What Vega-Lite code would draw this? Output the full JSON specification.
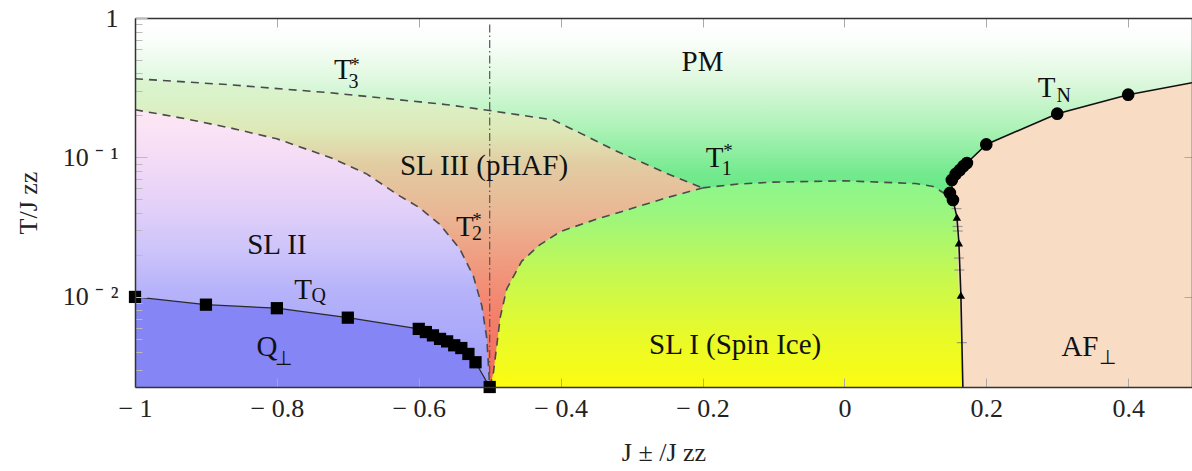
{
  "$schema": "https://vega.github.io/schema/vega-lite/v6.json",
  "width": 1057,
  "height": 369,
  "autosize": {"type": "none"},
  "padding": {"left": 135, "top": 18, "right": 0, "bottom": 84},
  "background": "white",
  "config": {"view": {"stroke": null}, "font": "Liberation Serif"},
  "datasets": {
    "one": [{}],
    "sl3": [{"x":-1,"y":0.367},{"x":-0.866,"y":0.332},{"x":-0.725,"y":0.291},{"x":-0.655,"y":0.268},{"x":-0.56,"y":0.239},{"x":-0.5,"y":0.217},{"x":-0.45,"y":0.199},{"x":-0.411,"y":0.186},{"x":-0.373,"y":0.15},{"x":-0.326,"y":0.114},{"x":-0.256,"y":0.079},{"x":-0.2,"y":0.0605}],
    "sl2": [{"x":-1,"y":0.22},{"x":-0.93,"y":0.19},{"x":-0.866,"y":0.163},{"x":-0.8,"y":0.136},{"x":-0.725,"y":0.1},{"x":-0.673,"y":0.076},{"x":-0.627,"y":0.053},{"x":-0.6,"y":0.044},{"x":-0.57,"y":0.033},{"x":-0.542,"y":0.022},{"x":-0.523,"y":0.0141},{"x":-0.511,"y":0.0086},{"x":-0.504,"y":0.005},{"x":-0.5,"y":0.00226}],
    "q": [{"x":-1,"y":0.01},{"x":-0.9,"y":0.0088},{"x":-0.8,"y":0.0083},{"x":-0.7,"y":0.0071},{"x":-0.6,"y":0.0059},{"x":-0.59,"y":0.0056},{"x":-0.58,"y":0.0053},{"x":-0.57,"y":0.005},{"x":-0.56,"y":0.0048},{"x":-0.55,"y":0.0045},{"x":-0.54,"y":0.0043},{"x":-0.53,"y":0.0039},{"x":-0.52,"y":0.0034},{"x":-0.5,"y":0.00226}],
    "sl1": [{"x":-0.5,"y":0.00226},{"x":-0.495,"y":0.0028},{"x":-0.49,"y":0.0045},{"x":-0.485,"y":0.0072},{"x":-0.476,"y":0.0114},{"x":-0.455,"y":0.018},{"x":-0.43,"y":0.0235},{"x":-0.4,"y":0.0295},{"x":-0.35,"y":0.036},{"x":-0.3,"y":0.043},{"x":-0.25,"y":0.0515},{"x":-0.2,"y":0.0605},{"x":-0.15,"y":0.0645},{"x":-0.1,"y":0.0665},{"x":0.0,"y":0.068},{"x":0.1,"y":0.065},{"x":0.125,"y":0.062},{"x":0.144,"y":0.054},{"x":0.15,"y":0.05},{"x":0.167,"y":0.05}],
    "af": [{"x":0.149,"top":0.056,"bot":0.053},{"x":0.152,"top":0.069,"bot":0.048},{"x":0.157,"top":0.0762,"bot":0.038},{"x":0.159,"top":0.078,"bot":0.025},{"x":0.1615,"top":0.08,"bot":0.0105},{"x":0.167,"top":0.0869,"bot":0.00226},{"x":0.1727,"top":0.0913,"bot":0.00226},{"x":0.2,"top":0.124,"bot":0.00226},{"x":0.3,"top":0.206,"bot":0.00226},{"x":0.4,"top":0.282,"bot":0.00226},{"x":0.49,"top":0.343,"bot":0.00226}],
    "dashed": [
      {"curve":"T3","x":-1,"y":0.367},{"curve":"T3","x":-0.866,"y":0.332},{"curve":"T3","x":-0.725,"y":0.291},{"curve":"T3","x":-0.655,"y":0.268},{"curve":"T3","x":-0.56,"y":0.239},{"curve":"T3","x":-0.5,"y":0.217},{"curve":"T3","x":-0.45,"y":0.199},{"curve":"T3","x":-0.411,"y":0.186},{"curve":"T3","x":-0.373,"y":0.15},{"curve":"T3","x":-0.326,"y":0.114},{"curve":"T3","x":-0.256,"y":0.079},{"curve":"T3","x":-0.2,"y":0.0605},
      {"curve":"T1","x":-0.2,"y":0.0605},{"curve":"T1","x":-0.15,"y":0.0645},{"curve":"T1","x":-0.1,"y":0.0665},{"curve":"T1","x":0.0,"y":0.068},{"curve":"T1","x":0.1,"y":0.065},{"curve":"T1","x":0.125,"y":0.062},{"curve":"T1","x":0.144,"y":0.054},{"curve":"T1","x":0.15,"y":0.05},
      {"curve":"T2L","x":-1,"y":0.22},{"curve":"T2L","x":-0.93,"y":0.19},{"curve":"T2L","x":-0.866,"y":0.163},{"curve":"T2L","x":-0.8,"y":0.136},{"curve":"T2L","x":-0.725,"y":0.1},{"curve":"T2L","x":-0.673,"y":0.076},{"curve":"T2L","x":-0.627,"y":0.053},{"curve":"T2L","x":-0.6,"y":0.044},{"curve":"T2L","x":-0.57,"y":0.033},{"curve":"T2L","x":-0.542,"y":0.022},{"curve":"T2L","x":-0.523,"y":0.0141},{"curve":"T2L","x":-0.511,"y":0.0086},{"curve":"T2L","x":-0.504,"y":0.005},{"curve":"T2L","x":-0.5,"y":0.00226},
      {"curve":"T2R","x":-0.5,"y":0.00226},{"curve":"T2R","x":-0.495,"y":0.0028},{"curve":"T2R","x":-0.49,"y":0.0045},{"curve":"T2R","x":-0.485,"y":0.0072},{"curve":"T2R","x":-0.476,"y":0.0114},{"curve":"T2R","x":-0.455,"y":0.018},{"curve":"T2R","x":-0.43,"y":0.0235},{"curve":"T2R","x":-0.4,"y":0.0295},{"curve":"T2R","x":-0.35,"y":0.036},{"curve":"T2R","x":-0.3,"y":0.043},{"curve":"T2R","x":-0.25,"y":0.0515},{"curve":"T2R","x":-0.2,"y":0.0605}
    ],
    "afline": [{"o":1,"x":0.167,"y":0.00226},{"o":2,"x":0.1642,"y":0.0103},{"o":3,"x":0.1614,"y":0.0244},{"o":4,"x":0.1586,"y":0.0374},{"o":5,"x":0.153,"y":0.0496},{"o":6,"x":0.1515,"y":0.062},{"o":7,"x":0.157,"y":0.0762},{"o":8,"x":0.1628,"y":0.0813},{"o":9,"x":0.1727,"y":0.0913},{"o":10,"x":0.2,"y":0.124},{"o":11,"x":0.3,"y":0.206},{"o":12,"x":0.4,"y":0.282},{"o":13,"x":0.49,"y":0.343}],
    "tn": [{"x":0.1487,"y":0.0557},{"x":0.153,"y":0.0496},{"x":0.1515,"y":0.069},{"x":0.157,"y":0.0762},{"x":0.1628,"y":0.0813},{"x":0.168,"y":0.0869},{"x":0.1727,"y":0.0913},{"x":0.2,"y":0.124},{"x":0.3,"y":0.206},{"x":0.4,"y":0.282}],
    "tri": [{"x":0.1586,"y":0.0374},{"x":0.1614,"y":0.0244},{"x":0.1642,"y":0.0103}],
    "err": [{"x":0.158,"y":0.043},{"x":0.1595,"y":0.032},{"x":0.1598,"y":0.0297},{"x":0.1615,"y":0.019},{"x":0.162,"y":0.0156},{"x":0.1655,"y":0.0047}],
    "labels": [
      {"kind":"main","x":-0.2,"y":0.484,"text":"PM"},
      {"kind":"main","x":-0.508,"y":0.0869,"text":"SL III (pHAF)"},
      {"kind":"main","x":-0.8,"y":0.0236,"text":"SL II"},
      {"kind":"main","x":-0.154,"y":0.00453,"text":"SL I (Spin Ice)"},
      {"kind":"main","x":-0.707,"y":0.424,"text":"T"},
      {"kind":"main","x":-0.183,"y":0.0991,"text":"T"},
      {"kind":"main","x":-0.535,"y":0.0318,"text":"T"},
      {"kind":"main","x":0.285,"y":0.315,"text":"T"},
      {"kind":"main","x":-0.763,"y":0.0112,"text":"T"},
      {"kind":"main","x":-0.814,"y":0.00438,"text":"Q"},
      {"kind":"main","x":0.332,"y":0.00438,"text":"AF"},
      {"kind":"sub","x":-0.692,"y":0.345,"text":"3"},
      {"kind":"sub","x":-0.166,"y":0.0822,"text":"1"},
      {"kind":"sub","x":-0.518,"y":0.0281,"text":"2"},
      {"kind":"sub","x":0.309,"y":0.274,"text":"N"},
      {"kind":"sub","x":-0.741,"y":0.0102,"text":"Q"},
      {"kind":"sub","x":-0.791,"y":0.0036,"text":"⊥"},
      {"kind":"sub","x":0.371,"y":0.00362,"text":"⊥"},
      {"kind":"sup","x":-0.690,"y":0.5,"text":"*"},
      {"kind":"sup","x":-0.164,"y":0.121,"text":"*"},
      {"kind":"sup","x":-0.518,"y":0.0387,"text":"*"}
    ]
  },
  "resolve": {"axis": {"x": "independent", "y": "independent"}},
  "layer": [
    {
      "data": {"name": "one"},
      "mark": {"type": "rect", "clip": true, "color": {"gradient": "linear", "x1": 0, "y1": 0, "x2": 0, "y2": 1, "stops": [{"offset": 0, "color": "#ffffff"}, {"offset": 0.06, "color": "#fbfefb"}, {"offset": 0.17, "color": "#def8de"}, {"offset": 0.3, "color": "#acf2b6"}, {"offset": 0.42, "color": "#74ea8e"}, {"offset": 0.5, "color": "#62e682"}, {"offset": 1, "color": "#62e682"}]}},
      "encoding": {
        "x": {"datum": -1, "type": "quantitative", "scale": {"domain": [-1, 0.49], "nice": false, "zero": false},
          "axis": {"orient": "bottom", "values": [-1, -0.8, -0.6, -0.4, -0.2, 0, 0.2, 0.4], "labelExpr": "datum.value == 0 ? '0' : (datum.value < 0 ? '− ' + format(-datum.value, '~g') : format(datum.value, '~g'))", "tickSize": -9, "tickColor": "#aaaaaa", "tickWidth": 1, "domain": true, "domainColor": "#333333", "domainWidth": 1.5, "grid": false, "zindex": 1, "labelFont": "Liberation Serif", "labelFontSize": 26, "labelColor": "#222222", "labelPadding": 17, "labelFlush": false, "labelOverlap": false, "title": "J ± /J  zz", "titleFont": "Liberation Serif", "titleFontSize": 26, "titleFontWeight": "normal", "titleColor": "#222222", "titlePadding": 18}},
        "x2": {"datum": 0.49},
        "y": {"datum": 1, "type": "quantitative", "scale": {"type": "log", "domain": [0.00226, 1], "nice": false},
          "axis": {"orient": "left", "values": [0.003, 0.004, 0.005, 0.006, 0.007, 0.008, 0.009, 0.01, 0.02, 0.03, 0.04, 0.05, 0.06, 0.07, 0.08, 0.09, 0.1, 0.2, 0.3, 0.4, 0.5, 0.6, 0.7, 0.8, 0.9, 1], "labelExpr": "datum.value == 1 ? '1' : (datum.value == 0.1 ? '10 ⁻ ¹' : (datum.value == 0.01 ? '10 ⁻ ²' : ''))", "tickSize": {"condition": {"test": "datum.value == 1 || datum.value == 0.1 || datum.value == 0.01", "value": -12}, "value": -7}, "tickColor": "#bbbbbb", "domain": true, "domainColor": "#333333", "domainWidth": 1.5, "grid": false, "zindex": 1, "labelFont": "Liberation Serif", "labelFontSize": 26, "labelColor": "#222222", "labelPadding": 29, "labelOverlap": false, "labelFlush": false, "title": "T/J  zz", "titleFont": "Liberation Serif", "titleFontSize": 26, "titleFontWeight": "normal", "titleColor": "#222222", "titlePadding": 21}},
        "y2": {"datum": 0.00226}
      }
    },
    {
      "data": {"name": "sl3"},
      "mark": {"type": "area", "clip": true, "color": {"gradient": "linear", "x1": 0, "y1": 0, "x2": 0, "y2": 1, "stops": [{"offset": 0, "color": "#dcf4d0"}, {"offset": 0.07, "color": "#daf2c8"}, {"offset": 0.17, "color": "#dee8b6"}, {"offset": 0.28, "color": "#e2cca2"}, {"offset": 0.44, "color": "#eab694"}, {"offset": 0.59, "color": "#f09c80"}, {"offset": 0.78, "color": "#f47e6a"}, {"offset": 1, "color": "#f8665a"}]}},
      "encoding": {
        "x": {"field": "x", "type": "quantitative", "scale": {"domain": [-1, 0.49], "nice": false, "zero": false}, "axis": null},
        "y": {"field": "y", "type": "quantitative", "scale": {"type": "log", "domain": [0.00226, 1], "nice": false}, "axis": null},
        "y2": {"datum": 0.00226}
      }
    },
    {
      "data": {"name": "sl2"},
      "mark": {"type": "area", "clip": true, "color": {"gradient": "linear", "x1": 0, "y1": 0, "x2": 0, "y2": 1, "stops": [{"offset": 0, "color": "#fde8f4"}, {"offset": 0.144, "color": "#f6def6"}, {"offset": 0.325, "color": "#e6d2f8"}, {"offset": 0.505, "color": "#cdc4fa"}, {"offset": 0.65, "color": "#b6b3fa"}, {"offset": 1, "color": "#9c9cf8"}]}},
      "encoding": {
        "x": {"field": "x", "type": "quantitative", "scale": {"domain": [-1, 0.49], "nice": false, "zero": false}, "axis": null},
        "y": {"field": "y", "type": "quantitative", "scale": {"type": "log", "domain": [0.00226, 1], "nice": false}, "axis": null},
        "y2": {"datum": 0.00226}
      }
    },
    {
      "data": {"name": "q"},
      "mark": {"type": "area", "clip": true, "color": "#8585f6"},
      "encoding": {
        "x": {"field": "x", "type": "quantitative", "scale": {"domain": [-1, 0.49], "nice": false, "zero": false}, "axis": null},
        "y": {"field": "y", "type": "quantitative", "scale": {"type": "log", "domain": [0.00226, 1], "nice": false}, "axis": null},
        "y2": {"datum": 0.00226}
      }
    },
    {
      "data": {"name": "sl1"},
      "mark": {"type": "area", "clip": true, "color": {"gradient": "linear", "x1": 0, "y1": 0, "x2": 0, "y2": 1, "stops": [{"offset": 0, "color": "#8cf68c"}, {"offset": 0.15, "color": "#9af680"}, {"offset": 0.45, "color": "#c4f852"}, {"offset": 0.75, "color": "#e8fa2a"}, {"offset": 1, "color": "#fcfc10"}]}},
      "encoding": {
        "x": {"field": "x", "type": "quantitative", "scale": {"domain": [-1, 0.49], "nice": false, "zero": false}, "axis": null},
        "y": {"field": "y", "type": "quantitative", "scale": {"type": "log", "domain": [0.00226, 1], "nice": false}, "axis": null},
        "y2": {"datum": 0.00226}
      }
    },
    {
      "data": {"name": "af"},
      "mark": {"type": "area", "clip": true, "color": "#f9dcc4"},
      "encoding": {
        "x": {"field": "x", "type": "quantitative", "scale": {"domain": [-1, 0.49], "nice": false, "zero": false}, "axis": null},
        "y": {"field": "top", "type": "quantitative", "scale": {"type": "log", "domain": [0.00226, 1], "nice": false}, "axis": null},
        "y2": {"field": "bot"}
      }
    },
    {
      "data": {"name": "dashed"},
      "mark": {"type": "line", "clip": true, "color": "#4a4a4a", "strokeWidth": 1.6, "strokeDash": [8, 6]},
      "encoding": {
        "x": {"field": "x", "type": "quantitative", "scale": {"domain": [-1, 0.49], "nice": false, "zero": false}, "axis": null},
        "y": {"field": "y", "type": "quantitative", "scale": {"type": "log", "domain": [0.00226, 1], "nice": false}, "axis": null},
        "detail": {"field": "curve"}
      }
    },
    {
      "data": {"name": "one"},
      "mark": {"type": "rule", "clip": true, "color": "#555555", "strokeWidth": 1.2, "strokeDash": [8, 3, 1.5, 3]},
      "encoding": {
        "x": {"datum": -0.5, "type": "quantitative", "scale": {"domain": [-1, 0.49], "nice": false, "zero": false},
          "axis": {"orient": "top", "values": [-1, -0.8, -0.6, -0.4, -0.2, 0, 0.2, 0.4], "labels": false, "tickSize": -9, "tickColor": "#aaaaaa", "domain": true, "domainColor": "#333333", "domainWidth": 1.5, "grid": false, "zindex": 1, "title": null}},
        "y": {"datum": 0.9, "type": "quantitative", "scale": {"type": "log", "domain": [0.00226, 1], "nice": false},
          "axis": {"orient": "right", "values": [0.01, 0.1], "labels": false, "tickSize": -8, "tickColor": "#aaaaaa", "domain": true, "domainColor": "#333333", "domainWidth": 1.5, "grid": false, "zindex": 1, "title": null}},
        "y2": {"datum": 0.00226}
      }
    },
    {
      "data": {"name": "q"},
      "mark": {"type": "line", "clip": true, "color": "#2a2a2a", "strokeWidth": 1.3},
      "encoding": {
        "x": {"field": "x", "type": "quantitative", "scale": {"domain": [-1, 0.49], "nice": false, "zero": false}, "axis": null},
        "y": {"field": "y", "type": "quantitative", "scale": {"type": "log", "domain": [0.00226, 1], "nice": false}, "axis": null}
      }
    },
    {
      "data": {"name": "q"},
      "mark": {"type": "point", "shape": "square", "filled": true, "color": "#000000", "size": 150, "opacity": 1},
      "encoding": {
        "x": {"field": "x", "type": "quantitative", "scale": {"domain": [-1, 0.49], "nice": false, "zero": false}, "axis": null},
        "y": {"field": "y", "type": "quantitative", "scale": {"type": "log", "domain": [0.00226, 1], "nice": false}, "axis": null}
      }
    },
    {
      "data": {"name": "err"},
      "mark": {"type": "tick", "orient": "horizontal", "color": "#777777", "size": 10, "thickness": 1.2},
      "encoding": {
        "x": {"field": "x", "type": "quantitative", "scale": {"domain": [-1, 0.49], "nice": false, "zero": false}, "axis": null},
        "y": {"field": "y", "type": "quantitative", "scale": {"type": "log", "domain": [0.00226, 1], "nice": false}, "axis": null}
      }
    },
    {
      "data": {"name": "afline"},
      "mark": {"type": "line", "clip": true, "color": "#111111", "strokeWidth": 1.6},
      "encoding": {
        "x": {"field": "x", "type": "quantitative", "scale": {"domain": [-1, 0.49], "nice": false, "zero": false}, "axis": null},
        "y": {"field": "y", "type": "quantitative", "scale": {"type": "log", "domain": [0.00226, 1], "nice": false}, "axis": null},
        "order": {"field": "o", "type": "quantitative"}
      }
    },
    {
      "data": {"name": "tn"},
      "mark": {"type": "point", "shape": "circle", "filled": true, "color": "#000000", "size": 160, "opacity": 1},
      "encoding": {
        "x": {"field": "x", "type": "quantitative", "scale": {"domain": [-1, 0.49], "nice": false, "zero": false}, "axis": null},
        "y": {"field": "y", "type": "quantitative", "scale": {"type": "log", "domain": [0.00226, 1], "nice": false}, "axis": null}
      }
    },
    {
      "data": {"name": "tri"},
      "mark": {"type": "point", "shape": "triangle-up", "filled": true, "color": "#000000", "size": 70, "opacity": 1},
      "encoding": {
        "x": {"field": "x", "type": "quantitative", "scale": {"domain": [-1, 0.49], "nice": false, "zero": false}, "axis": null},
        "y": {"field": "y", "type": "quantitative", "scale": {"type": "log", "domain": [0.00226, 1], "nice": false}, "axis": null}
      }
    },
    {
      "data": {"name": "labels"},
      "transform": [{"filter": "datum.kind == 'main'"}],
      "mark": {"type": "text", "font": "Liberation Serif", "fontSize": 29, "color": "#111111", "align": "center", "baseline": "middle"},
      "encoding": {
        "x": {"field": "x", "type": "quantitative", "scale": {"domain": [-1, 0.49], "nice": false, "zero": false}, "axis": null},
        "y": {"field": "y", "type": "quantitative", "scale": {"type": "log", "domain": [0.00226, 1], "nice": false}, "axis": null},
        "text": {"field": "text"}
      }
    },
    {
      "data": {"name": "labels"},
      "transform": [{"filter": "datum.kind == 'sub'"}],
      "mark": {"type": "text", "font": "Liberation Serif", "fontSize": 20, "color": "#111111", "align": "center", "baseline": "middle"},
      "encoding": {
        "x": {"field": "x", "type": "quantitative", "scale": {"domain": [-1, 0.49], "nice": false, "zero": false}, "axis": null},
        "y": {"field": "y", "type": "quantitative", "scale": {"type": "log", "domain": [0.00226, 1], "nice": false}, "axis": null},
        "text": {"field": "text"}
      }
    },
    {
      "data": {"name": "labels"},
      "transform": [{"filter": "datum.kind == 'sup'"}],
      "mark": {"type": "text", "font": "Liberation Serif", "fontSize": 19, "color": "#111111", "align": "center", "baseline": "middle", "dy": 5},
      "encoding": {
        "x": {"field": "x", "type": "quantitative", "scale": {"domain": [-1, 0.49], "nice": false, "zero": false}, "axis": null},
        "y": {"field": "y", "type": "quantitative", "scale": {"type": "log", "domain": [0.00226, 1], "nice": false}, "axis": null},
        "text": {"field": "text"}
      }
    }
  ]
}
